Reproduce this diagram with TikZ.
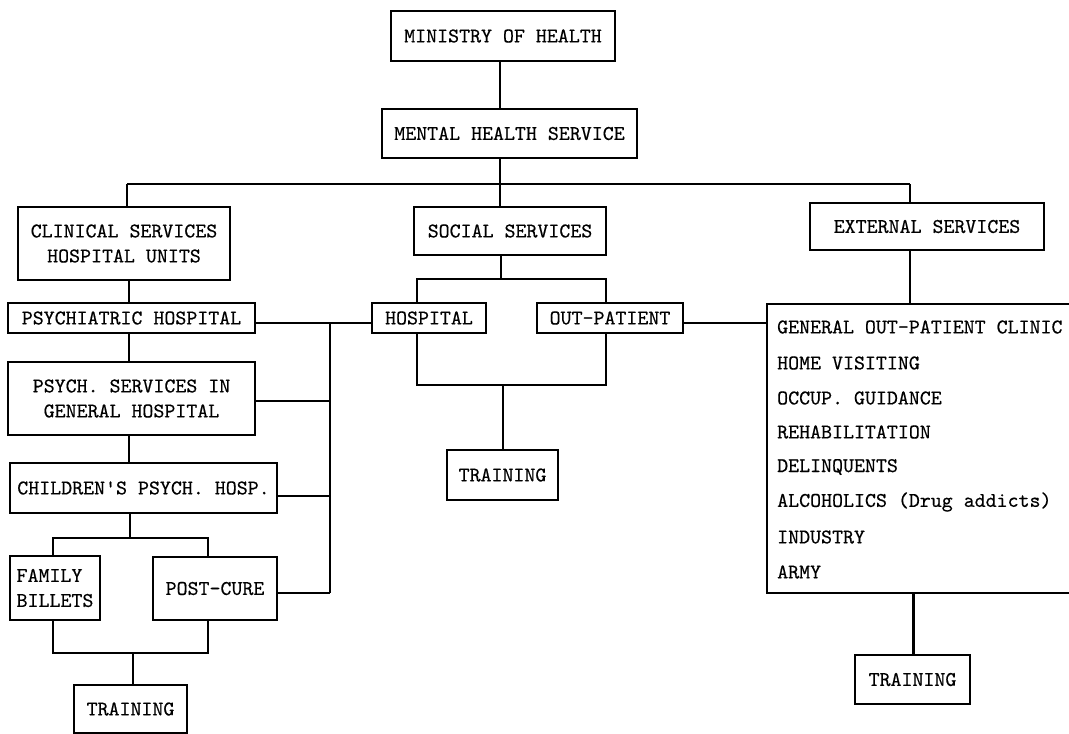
\documentclass[tikz,border=0pt]{standalone}
\usepackage{fontspec}
\newfontfamily\twfont{lmmono10-regular.otf}[FakeBold=0.4]
\begin{document}
\begin{tikzpicture}[x=1pt,y=-1pt,
  every node/.style={font=\fontsize{20.9}{25}\selectfont\twfont},
  bx/.style={draw,line width=1.4pt,inner sep=0pt,align=center},
  itm/.style={anchor=west,inner sep=0pt},
  ln/.style={line width=1.4pt}]
\useasboundingbox (0,0) rectangle (1069,734);
\fill[white] (0,0) rectangle (1069,734);
% boxes
\node[bx,minimum width=224,minimum height=50] (min) at (503,36) {MINISTRY OF HEALTH};
\node[bx,minimum width=255,minimum height=49] (mhs) at (509.5,133.5) {MENTAL HEALTH SERVICE};
\node[bx,minimum width=212,minimum height=73] (clin) at (124,243.5) {CLINICAL SERVICES\\HOSPITAL UNITS};
\node[bx,minimum width=192,minimum height=48] (soc) at (510,231) {SOCIAL SERVICES};
\node[bx,minimum width=234,minimum height=47] (ext) at (927,226.5) {EXTERNAL SERVICES};
\node[bx,minimum width=247,minimum height=30] (psy) at (131.5,318) {PSYCHIATRIC HOSPITAL};
\node[bx,minimum width=247,minimum height=73] (gen) at (131.5,398.5) {PSYCH. SERVICES IN\\GENERAL HOSPITAL};
\node[bx,minimum width=267,minimum height=50] (chi) at (143.5,488) {CHILDREN\textquotesingle S PSYCH. HOSP.};
\node[bx,minimum width=90,minimum height=64,align=left] (fam) at (55,588) {FAMILY\\BILLETS};
\node[bx,minimum width=124,minimum height=63] (post) at (215,588.5) {POST-CURE};
\node[bx,minimum width=113,minimum height=48] (trL) at (130.5,709) {TRAINING};
\node[bx,minimum width=114,minimum height=30] (hos) at (429,318) {HOSPITAL};
\node[bx,minimum width=146,minimum height=30] (out) at (610,318) {OUT-PATIENT};
\node[bx,minimum width=111,minimum height=50] (trC) at (502.5,475) {TRAINING};
\node[bx,minimum width=305,minimum height=289] (big) at (919.5,448.5) {};
\node[bx,minimum width=115,minimum height=49] (trR) at (912.5,679.5) {TRAINING};
% items of the big box
\node[itm] (i1) at (777,327) {GENERAL OUT-PATIENT CLINIC};
\node[itm] (i2) at (777,363) {HOME VISITING};
\node[itm] (i3) at (777,398) {OCCUP. GUIDANCE};
\node[itm] (i4) at (777,432) {REHABILITATION};
\node[itm] (i5) at (777,467) {DELINQUENTS};
\node[itm] (i6) at (777,502) {ALCOHOLICS (Drug addicts)};
\node[itm] (i7) at (777,537) {INDUSTRY};
\node[itm] (i8) at (777,572) {ARMY};
% coordinates
\coordinate (busL) at (127,184);
\coordinate (busC) at (500,184);
\coordinate (busR) at (910,184);
\coordinate (cx) at (129,0);
\coordinate (cs) at (130,538);
\coordinate (fsL) at (53,538);
\coordinate (fsR) at (208,538);
\coordinate (fbL) at (53,653);
\coordinate (fbR) at (208,653);
\coordinate (fbC) at (133,653);
\coordinate (vbT) at (330,323);
\coordinate (vg) at (330,401);
\coordinate (vc) at (330,496);
\coordinate (vbB) at (330,593);
\coordinate (ss) at (501,279);
\coordinate (ssL) at (417,279);
\coordinate (ssR) at (606,279);
\coordinate (sbL) at (417,385);
\coordinate (sbR) at (606,385);
\coordinate (sbC) at (503,385);
\coordinate (ex) at (913,0);
% connectors
\draw[ln] (min.south -| busC) -- (mhs.north -| busC);
\draw[ln] (mhs.south -| busC) -- (busC);
\draw[ln] (busL) -- (busR);
\draw[ln] (busL) -- (clin.north -| busL);
\draw[ln] (busC) -- (soc.north -| busC);
\draw[ln] (busR) -- (ext.north -| busR);
\draw[ln] (clin.south -| cx) -- (psy.north -| cx);
\draw[ln] (psy.south -| cx) -- (gen.north -| cx);
\draw[ln] (gen.south -| cx) -- (chi.north -| cx);
\draw[ln] (chi.south -| cs) -- (cs);
\draw[ln] (fam.north -| fsL) -- (fsL) -- (fsR) -- (post.north -| fsR);
\draw[ln] (fam.south -| fbL) -- (fbL) -- (fbR) -- (post.south -| fbR);
\draw[ln] (fbC) -- (trL.north -| fbC);
\draw[ln] (psy.east |- vbT) -- (hos.west |- vbT);
\draw[ln] (vbT) -- (vbB);
\draw[ln] (gen.east |- vg) -- (vg);
\draw[ln] (chi.east |- vc) -- (vc);
\draw[ln] (post.east |- vbB) -- (vbB);
\draw[ln] (soc.south -| ss) -- (ss);
\draw[ln] (hos.north -| ssL) -- (ssL) -- (ssR) -- (out.north -| ssR);
\draw[ln] (hos.south -| sbL) -- (sbL) -- (sbR) -- (out.south -| sbR);
\draw[ln] (sbC) -- (trC.north -| sbC);
\draw[ln] (out.east |- vbT) -- (big.west |- vbT);
\draw[ln] (ext.south -| busR) -- (big.north -| busR);
\draw[line width=3pt] (big.south -| ex) -- (trR.north -| ex);
\end{tikzpicture}
\end{document}
